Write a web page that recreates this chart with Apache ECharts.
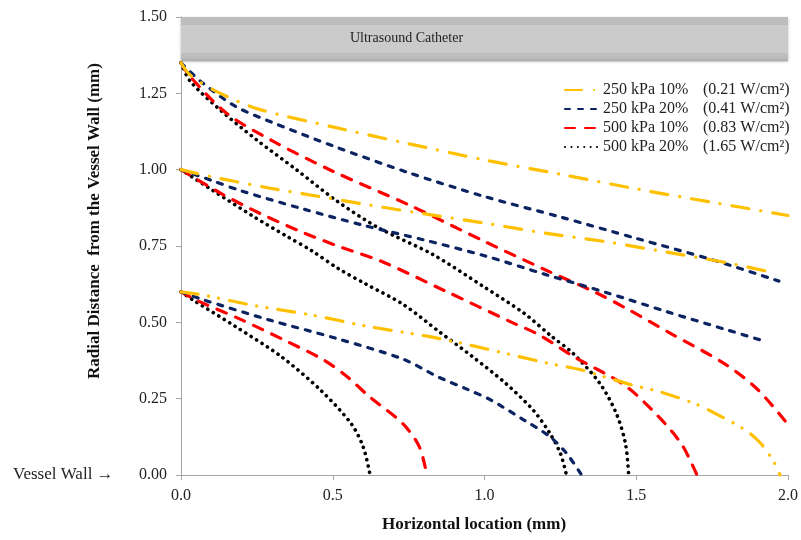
<!DOCTYPE html>
<html><head><meta charset="utf-8">
<script src="https://cdn.jsdelivr.net/npm/echarts@6/dist/echarts.min.js"></script>
<style>html,body{margin:0;padding:0;background:#fff}#c{width:801px;height:540px}</style>
</head><body><div id="c"></div>
<script>
// Legend / series labels
const seriesNames = ['250 kPa 10%', '250 kPa 20%', '500 kPa 10%', '500 kPa 20%'];
const intensities = ['(0.21 W/cm²)', '(0.41 W/cm²)', '(0.83 W/cm²)', '(1.65 W/cm²)'];

// Axis ticks
const xTicks = [0, 0.5, 1.0, 1.5, 2.0];
const yTicks = [0, 0.25, 0.5, 0.75, 1.0, 1.25, 1.5];

// Catheter band (y range, mm)
const catheter = [1.355, 1.5];
const catheterLabel = 'Ultrasound Catheter';

// Curves starting at 1.35 mm
const y250_10_a = [[0,1.35],[0.03,1.31],[0.12,1.255],[0.25,1.2],[0.5,1.14],[0.75,1.085],[1.0,1.032],[1.25,0.985],[1.5,0.937],[1.75,0.893],[2.0,0.85]];
const y250_20_a = [[0,1.35],[0.07,1.285],[0.18,1.207],[0.3,1.155],[0.5,1.078],[0.75,0.99],[1.0,0.912],[1.25,0.845],[1.5,0.775],[1.75,0.705],[1.97,0.635]];
const y500_10_a = [[0,1.35],[0.03,1.305],[0.15,1.185],[0.3,1.095],[0.5,0.995],[0.75,0.885],[1.0,0.765],[1.2,0.672],[1.37,0.596],[1.47,0.544],[1.62,0.46],[1.79,0.365],[1.9,0.28],[2.0,0.165]];
const y500_20_a = [[0,1.35],[0.03,1.29],[0.13,1.195],[0.25,1.097],[0.38,1.0],[0.51,0.9],[0.65,0.81],[0.83,0.722],[1.0,0.615],[1.13,0.53],[1.22,0.455],[1.29,0.4],[1.38,0.3],[1.435,0.2],[1.465,0.1],[1.475,0.0]];

// Curves starting at 1.00 mm
const y250_10_b = [[0,1.0],[0.1,0.977],[0.29,0.94],[0.45,0.913],[0.62,0.884],[0.85,0.848],[1.0,0.825],[1.2,0.792],[1.4,0.764],[1.6,0.73],[1.8,0.695],[1.95,0.663]];
const y250_20_b = [[0,1.0],[0.1,0.965],[0.2,0.93],[0.4,0.872],[0.6,0.818],[0.8,0.77],[1.0,0.718],[1.2,0.657],[1.4,0.598],[1.6,0.535],[1.8,0.475],[1.91,0.442]];
const y500_10_b = [[0,1.0],[0.13,0.923],[0.26,0.857],[0.4,0.795],[0.53,0.745],[0.66,0.7],[0.87,0.603],[1.09,0.5],[1.18,0.459],[1.29,0.39],[1.46,0.295],[1.57,0.195],[1.65,0.1],[1.7,0.0]];
const y500_20_b = [[0,1.0],[0.1,0.935],[0.24,0.846],[0.35,0.781],[0.43,0.735],[0.52,0.675],[0.61,0.625],[0.73,0.56],[0.85,0.47],[0.96,0.388],[1.07,0.3],[1.16,0.213],[1.215,0.137],[1.25,0.071],[1.27,0.0]];

// Curves starting at 0.60 mm
const y250_10_c = [[0,0.6],[0.07,0.59],[0.23,0.557],[0.43,0.524],[0.62,0.486],[0.82,0.453],[0.95,0.426],[1.2,0.368],[1.32,0.344],[1.4,0.32],[1.5,0.291],[1.57,0.275],[1.69,0.235],[1.75,0.207],[1.86,0.147],[1.91,0.104],[1.955,0.04],[1.974,0.0]];
const y250_20_c = [[0,0.6],[0.07,0.575],[0.29,0.508],[0.51,0.448],[0.73,0.38],[0.85,0.32],[0.94,0.282],[1.02,0.246],[1.13,0.18],[1.215,0.126],[1.27,0.071],[1.32,0.0]];
const y500_10_c = [[0,0.6],[0.05,0.573],[0.2,0.508],[0.34,0.442],[0.47,0.377],[0.55,0.32],[0.62,0.257],[0.73,0.169],[0.785,0.093],[0.81,0.0]];
const y500_20_c = [[0,0.6],[0.04,0.573],[0.18,0.486],[0.33,0.388],[0.46,0.278],[0.56,0.169],[0.6,0.093],[0.623,0.0]];

const colors = ['#FFC000', '#0B2361', '#FF0000', '#000000'];
const widths = [3.2, 3.2, 3.2, 3.6];
const dashA = [[17,12,0.1,12],[5,8],[10,10],[0.1,6.3]];
const dashC = [[17,11,0.1,10,0.1,11],[5,8],[10,10],[0.1,6.3]];
const groups = [
  [y250_10_a, y250_20_a, y500_10_a, y500_20_a],
  [y250_10_b, y250_20_b, y500_10_b, y500_20_b],
  [y250_10_c, y250_20_c, y500_10_c, y500_20_c]
];
const FONT = '"Liberation Serif", "Times New Roman", serif';

const series = [];
groups.forEach((g, gi) => {
  g.forEach((d, si) => {
    series.push({
      type: 'line',
      name: seriesNames[si] + '|' + intensities[si],
      data: d,
      smooth: 0.3,
      symbol: 'none',
      z: 10 - si,
      lineStyle: {color: colors[si], width: widths[si], type: (gi === 2 ? dashC : dashA)[si], cap: 'round'},
      itemStyle: {color: colors[si]}
    });
  });
});
series[0].markArea = {
  silent: true,
  z: 1,
  itemStyle: {
    color: {type: 'linear', x: 0, y: 0, x2: 0, y2: 1, colorStops: [
      {offset: 0, color: '#bdbdbd'}, {offset: 0.17, color: '#bdbdbd'},
      {offset: 0.18, color: '#cbcbcb'}, {offset: 0.8, color: '#cbcbcb'},
      {offset: 0.81, color: '#bfbfbf'}, {offset: 0.93, color: '#bcbcbc'}, {offset: 1, color: '#a8a8a8'}]},
    shadowColor: 'rgba(0,0,0,0.25)', shadowBlur: 3, shadowOffsetY: 1
  },
  label: {show: true, position: 'inside', offset: [-78, -1], color: '#222', fontFamily: FONT, fontSize: 14, formatter: catheterLabel},
  data: [[{xAxis: xTicks[0], yAxis: catheter[0]}, {xAxis: xTicks[xTicks.length-1], yAxis: catheter[1]}]]
};

const chart = echarts.init(document.getElementById('c'), null, {renderer: 'canvas'});
chart.setOption({
  animation: false,
  backgroundColor: '#fff',
  grid: {left: 181, right: 13, top: 17, bottom: 65, containLabel: false},
  xAxis: {
    type: 'value', min: xTicks[0], max: xTicks[xTicks.length-1], interval: 0.5,
    axisLine: {lineStyle: {color: '#a6a6a6', width: 1}},
    axisTick: {show: true, inside: false, length: 5, lineStyle: {color: '#a6a6a6'}},
    axisLabel: {fontFamily: FONT, fontSize: 16, color: '#222', margin: 13, formatter: v => v.toFixed(1)},
    splitLine: {show: false}
  },
  yAxis: {
    type: 'value', min: yTicks[0], max: yTicks[yTicks.length-1], interval: 0.25,
    axisLine: {show: true, lineStyle: {color: '#a6a6a6', width: 1}},
    axisTick: {show: true, inside: false, length: 5, lineStyle: {color: '#a6a6a6'}},
    axisLabel: {fontFamily: FONT, fontSize: 16, color: '#222', margin: 14, formatter: v => v.toFixed(2)},
    splitLine: {show: false}
  },
  legend: {
    orient: 'vertical', left: 559, top: 77,
    itemWidth: 33, itemHeight: 10, itemGap: 3,
    data: seriesNames.map((n, i) => n + '|' + intensities[i]),
    lineStyle: {cap: 'round'},
    itemStyle: {opacity: 0, color: 'rgba(0,0,0,0)', borderWidth: 0},
    formatter: n => { const p = n.split('|'); return '{a|' + p[0] + '}{b|' + p[1] + '}'; },
    textStyle: {fontFamily: FONT, fontSize: 16, color: '#222', lineHeight: 16,
      rich: {a: {fontFamily: FONT, fontSize: 16, color: '#222', width: 100}, b: {fontFamily: FONT, fontSize: 16, color: '#222'}}}
  },
  graphic: [
    {type: 'text', left: 13, top: 466, style: {text: 'Vessel Wall →', fontFamily: FONT, fontSize: 17, fill: '#222'}},
    {type: 'text', x: 95, y: 221, rotation: Math.PI / 2, style: {text: 'Radial Distance  from the Vessel Wall (mm)', fontFamily: FONT, fontSize: 17, fontWeight: 'bold', fill: '#111', align: 'center', verticalAlign: 'middle'}},
    {type: 'text', x: 474, y: 525, style: {text: 'Horizontal location (mm)', fontFamily: FONT, fontSize: 17, fontWeight: 'bold', fill: '#111', align: 'center', verticalAlign: 'middle'}}
  ],
  series: series
});
</script>
</body></html>
